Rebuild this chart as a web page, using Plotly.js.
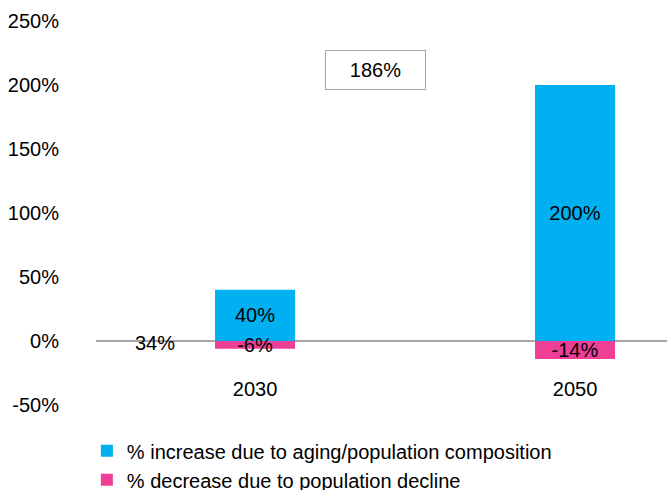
<!DOCTYPE html>
<html>
<head>
<meta charset="utf-8">
<script src="https://cdn.plot.ly/plotly-3.0.1.min.js"></script>
<style>html,body{margin:0;padding:0;background:#fff;}#chart{width:667px;height:490px;}</style>
</head>
<body>
<div id="chart"></div>
<script>
const years = ["2030", "2050"];
const increaseValues = [40, 200];
const decreaseValues = [-6, -14];
const seriesNames = ["% increase due to aging/population composition", "% decrease due to population decline"];
const netLabels = ["34%", "186%"];
const yTickVals = [-50, 0, 50, 100, 150, 200, 250];
const yTickText = ["-50%", "0%", "50%", "100%", "150%", "200%", "250%"];

const FONT = "Liberation Sans, Arial, sans-serif";
const FS = 20;
const pct = v => v + "%";

const traces = [
  {
    type: "bar", x: years, y: increaseValues, name: seriesNames[0],
    marker: {color: "#00B0F0"}, width: 0.25,
    text: increaseValues.map(pct), textposition: "inside", insidetextanchor: "middle",
    constraintext: "none", textangle: 0, cliponaxis: false,
    textfont: {family: FONT, size: FS, color: "#000"},
    legendgroup: "a", hoverinfo: "none"
  },
  {
    type: "bar", x: years, y: decreaseValues, name: seriesNames[1],
    marker: {color: "#EE3E96"}, width: 0.25,
    text: decreaseValues.map(pct), textposition: "inside", insidetextanchor: "middle",
    constraintext: "none", textangle: 0, cliponaxis: false,
    textfont: {family: FONT, size: FS, color: "#000"},
    legendgroup: "b", hoverinfo: "none"
  }
];

const layout = {
  width: 667, height: 490,
  margin: {l: 96, r: 0, t: 21, b: 85},
  paper_bgcolor: "#fff", plot_bgcolor: "#fff",
  font: {family: FONT, size: FS, color: "#000"},
  barmode: "relative",
  showlegend: true,
  legend: {
    orientation: "v", x: -0.016, xanchor: "left",
    yref: "container", y: 0.12, yanchor: "top",
    traceorder: "grouped", tracegroupgap: 0,
    font: {family: FONT, size: FS, color: "#000"}
  },
  xaxis: {
    type: "category", range: [-0.497, 1.2875],
    showgrid: false, showline: false, zeroline: false, ticks: "",
    anchor: "free", position: 0.078,
    tickfont: {family: FONT, size: FS, color: "#000"}
  },
  yaxis: {
    range: [-50, 250], tickvals: yTickVals, ticktext: yTickText,
    showgrid: false, showline: false, ticks: "",
    zeroline: true, zerolinecolor: "#A6A6A6", zerolinewidth: 2,
    ticklabelstandoff: 36,
    tickfont: {family: FONT, size: FS, color: "#000"}
  },
  annotations: [
    {x: -0.3125, y: 0, xref: "x", yref: "y", text: netLabels[0], showarrow: false,
     font: {family: FONT, size: FS, color: "#000"}, yshift: -2},
    {x: 0.375, y: 212, xref: "x", yref: "y", text: netLabels[1], showarrow: false,
     font: {family: FONT, size: FS, color: "#000"},
     bordercolor: "#A6A6A6", borderwidth: 1, borderpad: 8, width: 83, bgcolor: "#fff"}
  ]
};

Plotly.newPlot("chart", traces, layout, {displayModeBar: false, staticPlot: true});
</script>
</body>
</html>
